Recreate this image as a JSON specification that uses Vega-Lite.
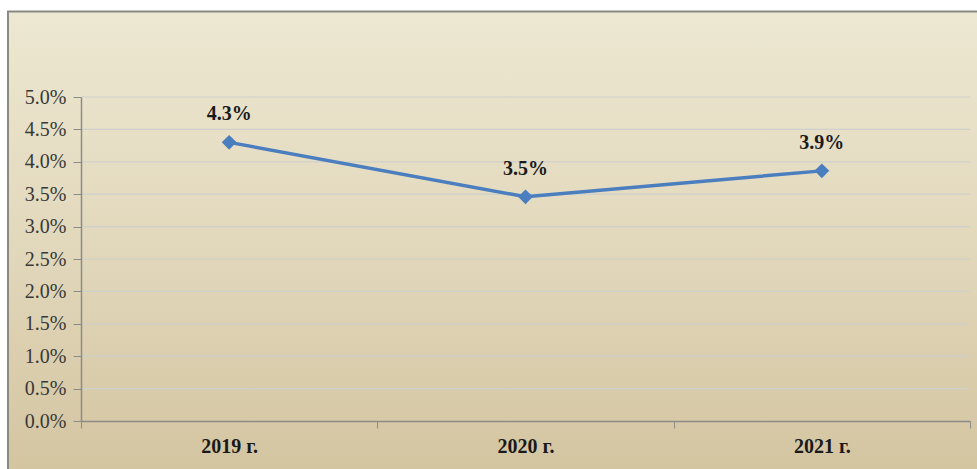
{
  "$schema": "https://vega.github.io/schema/vega-lite/v6.json",
  "autosize": {"type": "none"},
  "padding": {"left": 81, "top": 97, "right": 7, "bottom": 48},
  "width": 889,
  "height": 324,
  "background": "#ffffff",
  "config": {
    "view": {"stroke": null},
    "axisY": {
      "title": null, "grid": false, "zindex": 1,
      "format": ".1%", "tickSize": 8, "tickColor": "#8c8c86",
      "domainColor": "#8c8c86", "domainWidth": 1.5,
      "labelOverlap": false, "labelBound": false, "labelFlush": false,
      "labelFont": "Liberation Serif", "labelFontSize": 20,
      "labelColor": "#383838", "labelPadding": 7
    }
  },
  "datasets": {
    "frame": [{"x1": -0.0821, "x2": 1.03, "y1": -0.0076, "y2": 0.0632}],
    "grid": [{"v": 0.005}, {"v": 0.01}, {"v": 0.015}, {"v": 0.02}, {"v": 0.025}, {"v": 0.03}, {"v": 0.035}, {"v": 0.04}, {"v": 0.045}, {"v": 0.05}],
    "series": [
      {"year": "2019 г.", "value": 0.043},
      {"year": "2020 г.", "value": 0.0346},
      {"year": "2021 г.", "value": 0.0386}
    ]
  },
  "resolve": {"scale": {"x": "independent"}},
  "layer": [
    {
      "data": {"name": "frame"},
      "mark": {
        "type": "rect",
        "clip": false,
        "stroke": "#8a8a82",
        "strokeWidth": 2,
        "fill": {
          "gradient": "linear",
          "x1": 0, "y1": 0, "x2": 0, "y2": 1,
          "stops": [
            {"offset": 0, "color": "#EDE8D2"},
            {"offset": 0.5, "color": "#E2D8BC"},
            {"offset": 1, "color": "#D4C5A1"}
          ]
        }
      },
      "encoding": {
        "x": {"field": "x1", "type": "quantitative", "scale": {"domain": [0, 1], "nice": false, "zero": false}, "axis": null},
        "x2": {"field": "x2"},
        "y": {
          "field": "y1", "type": "quantitative",
          "scale": {"domain": [0, 0.05], "nice": false, "zero": false},
          "axis": {"zindex": 1, "format": ".1%", "labelOverlap": false, "values": [0, 0.005, 0.01, 0.015, 0.02, 0.025, 0.03, 0.035, 0.04, 0.045, 0.05]}
        },
        "y2": {"field": "y2"}
      }
    },
    {
      "layer": [
        {
          "data": {"name": "grid"},
          "mark": {"type": "rule", "color": "#cdd0cc", "strokeWidth": 1.2},
          "encoding": {
            "y": {
              "field": "v", "type": "quantitative",
              "scale": {"domain": [0, 0.05], "nice": false, "zero": false},
              "axis": {"zindex": 1, "format": ".1%", "labelOverlap": false, "values": [0, 0.005, 0.01, 0.015, 0.02, 0.025, 0.03, 0.035, 0.04, 0.045, 0.05]}
            }
          }
        },
        {
          "data": {"name": "series"},
          "mark": {
            "type": "line",
            "color": "#4A7EBF",
            "strokeWidth": 3.5,
            "point": {"filled": true, "shape": "diamond", "size": 220, "color": "#4A7EBF"}
          },
          "encoding": {
            "x": {
              "field": "year", "type": "nominal",
              "scale": {"type": "band", "paddingInner": 0, "paddingOuter": 0},
              "axis": {
                "title": null, "labelAngle": 0, "grid": false, "zindex": 1,
                "tickBand": "extent", "tickSize": 7, "tickColor": "#8c8c86",
                "domainColor": "#8c8c86", "domainWidth": 1.5,
                "labelFont": "Liberation Serif", "labelFontSize": 20, "labelFontWeight": "bold",
                "labelColor": "#1a1a1a", "labelPadding": 8
              }
            },
            "y": {
              "field": "value", "type": "quantitative",
              "scale": {"domain": [0, 0.05], "nice": false, "zero": false},
              "axis": {"zindex": 1, "format": ".1%", "labelOverlap": false, "values": [0, 0.005, 0.01, 0.015, 0.02, 0.025, 0.03, 0.035, 0.04, 0.045, 0.05]}
            }
          }
        },
        {
          "data": {"name": "series"},
          "mark": {"type": "text", "dy": -28, "font": "Liberation Serif", "fontSize": 20, "fontWeight": "bold", "color": "#1a1a1a"},
          "encoding": {
            "x": {"field": "year", "type": "nominal"},
            "y": {
              "field": "value", "type": "quantitative",
              "axis": {"zindex": 1, "format": ".1%", "labelOverlap": false, "values": [0, 0.005, 0.01, 0.015, 0.02, 0.025, 0.03, 0.035, 0.04, 0.045, 0.05]}
            },
            "text": {"field": "value", "type": "quantitative", "format": ".1%"}
          }
        }
      ]
    }
  ]
}
